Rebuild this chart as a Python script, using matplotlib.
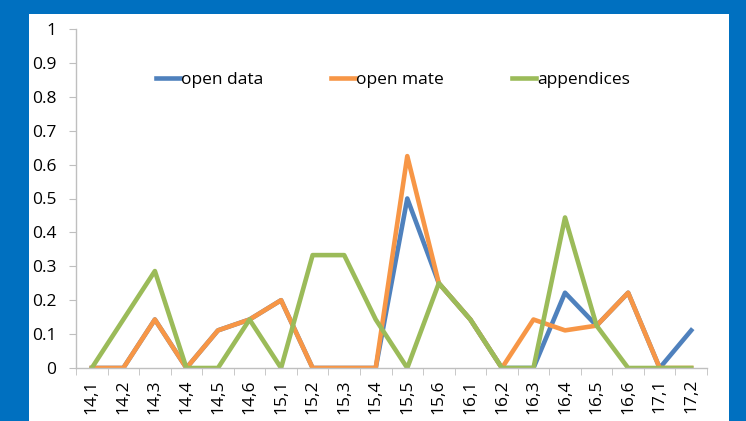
import matplotlib
matplotlib.use('Agg')
import matplotlib.pyplot as plt
from matplotlib.patches import Rectangle

categories = ['14,1', '14,2', '14,3', '14,4', '14,5', '14,6', '15,1', '15,2', '15,3', '15,4',
              '15,5', '15,6', '16,1', '16,2', '16,3', '16,4', '16,5', '16,6', '17,1', '17,2']
open_data = [0, 0, 0.143, 0, 0.111, 0.143, 0.2, 0, 0, 0,
             0.5, 0.25, 0.143, 0, 0, 0.222, 0.125, 0.222, 0, 0.111]
open_mate = [0, 0, 0.143, 0, 0.111, 0.143, 0.2, 0, 0, 0,
             0.625, 0.25, 0.143, 0, 0.143, 0.111, 0.125, 0.222, 0, 0]
appendices = [0, 0.143, 0.286, 0, 0, 0.143, 0, 0.333, 0.333, 0.143,
              0, 0.25, 0.143, 0, 0, 0.444, 0.125, 0, 0, 0]
yticks = [0, 0.1, 0.2, 0.3, 0.4, 0.5, 0.6, 0.7, 0.8, 0.9, 1]
ytick_labels = ['0', '0.1', '0.2', '0.3', '0.4', '0.5', '0.6', '0.7', '0.8', '0.9', '1']

plt.rcParams['font.family'] = ['Open Sans', 'DejaVu Sans']

fig = plt.figure(figsize=(7.46, 4.21), dpi=100)
fig.patch.set_facecolor('#0070C0')
# white chart area on the blue slide
fig.patches.append(Rectangle((29 / 746, 0), 700 / 746, 407 / 421, transform=fig.transFigure,
                             facecolor='white', edgecolor='none', zorder=-1))

ax = fig.add_axes([76 / 746, 53 / 421, 631 / 746, 339 / 421])
ax.set_facecolor('none')
ax.set_zorder(2)

x = list(range(len(categories)))
ax.plot(x, open_data, color='#4F81BD', linewidth=3.3, label='open data')
ax.plot(x, open_mate, color='#F79646', linewidth=3.3, label='open mate')
ax.plot(x, appendices, color='#9BBB59', linewidth=3.3, label='appendices')

ax.set_xlim(-0.5, len(categories) - 0.5)
ax.set_ylim(0, 1)
ax.set_yticks(yticks)
ax.set_yticklabels(ytick_labels, fontsize=12.5)
ax.set_xticks(x)
ax.set_xticklabels(categories, rotation=90, fontsize=12.5)
ax.set_xticks([i - 0.5 for i in range(len(categories) + 1)], minor=True)
ax.tick_params(axis='x', which='major', length=0, pad=8)
ax.tick_params(axis='x', which='minor', length=5, color='#BFBFBF', direction='out')
ax.tick_params(axis='y', length=5, color='#BFBFBF', pad=9)

for s in ['top', 'right']:
    ax.spines[s].set_visible(False)
for s in ['left', 'bottom']:
    ax.spines[s].set_color('#BFBFBF')
    ax.spines[s].set_linewidth(1)

ax.legend(loc='center', bbox_to_anchor=(0.502, 0.85), ncol=3, frameon=False,
          fontsize=12.5, handlelength=1.4, handletextpad=0.05, columnspacing=3.9)

fig.savefig('out.png', dpi=100, facecolor=fig.get_facecolor())
